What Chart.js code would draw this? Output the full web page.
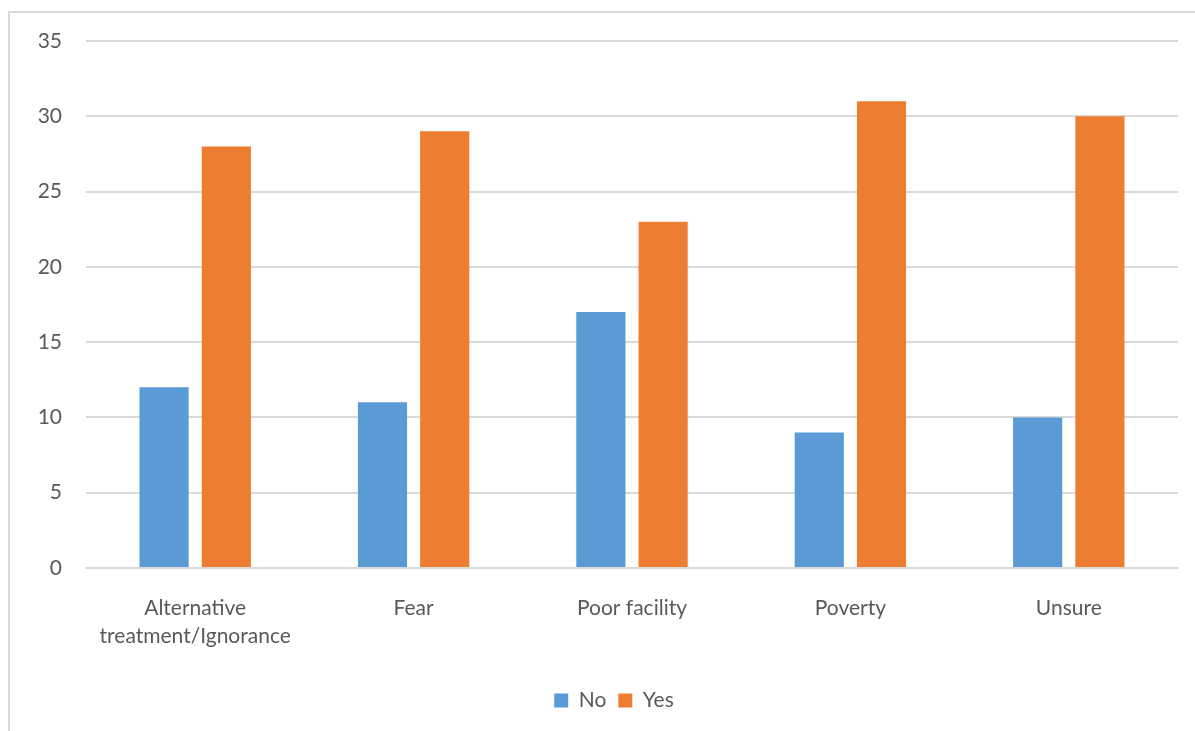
<!DOCTYPE html>
<html>
<head>
<meta charset="utf-8">
<script src="https://cdn.jsdelivr.net/npm/chart.js@4/dist/chart.umd.min.js"></script>
<style>
  html, body { margin: 0; padding: 0; background: #fff; overflow: hidden; }
  #frame { position: absolute; left: 8px; top: 11px; width: 1400px; height: 900px;
           border: 2px solid #d9d9d9; box-sizing: border-box; }
  #wrap { position: absolute; left: 0; top: 0; width: 1195px; height: 731px; }
</style>
</head>
<body>
<div id="frame"></div>
<div id="wrap"><canvas id="c" width="1195" height="731"></canvas></div>
<script>
const categories = [["Alternative", "treatment/Ignorance"], "Fear", "Poor facility", "Poverty", "Unsure"];
const noValues = [12, 11, 17, 9, 10];
const yesValues = [28, 29, 23, 31, 30];
const seriesNames = ["No", "Yes"];

const textColor = "#595959";
const gridColor = "#d9d9d9";
const fontFamily = "Lato, 'Liberation Sans', sans-serif";
const labelFont = { family: fontFamily, size: 21, lineHeight: 1.33 };

// Centre the legend over the span from x=50 to the right edge of the plot
const legendShift = {
  id: "legendShift",
  afterLayout(chart) {
    const lg = chart.legend;
    if (lg) { lg.left = 50; lg.width = lg.right - lg.left; }
  }
};

new Chart(document.getElementById("c"), {
  type: "bar",
  data: {
    labels: categories,
    datasets: [
      { label: seriesNames[0], data: noValues, backgroundColor: "#5b9bd5" },
      { label: seriesNames[1], data: yesValues, backgroundColor: "#ed7d31" }
    ]
  },
  plugins: [legendShift],
  options: {
    responsive: false,
    animation: false,
    events: [],
    layout: { padding: { top: 41, right: 17, bottom: 10, left: 0 } },
    datasets: { bar: { categoryPercentage: 0.57, barPercentage: 0.79 } },
    scales: {
      x: {
        grid: { display: false, drawTicks: false },
        border: { display: true, color: gridColor, width: 2 },
        ticks: { color: textColor, font: labelFont, padding: 26, maxRotation: 0, autoSkip: false },
        afterFit: (s) => { s.height = 110; }
      },
      y: {
        min: 0, max: 35,
        grid: { color: gridColor, lineWidth: 2, drawTicks: false },
        border: { display: false },
        ticks: { stepSize: 5, color: textColor, font: labelFont, padding: 24 },
        afterFit: (s) => { s.width = 86; }
      }
    },
    plugins: {
      legend: {
        position: "bottom",
        labels: { color: textColor, font: { family: fontFamily, size: 21 }, boxWidth: 14, boxHeight: 14, padding: 12 }
      },
      tooltip: { enabled: false }
    }
  }
});
</script>
</body>
</html>
